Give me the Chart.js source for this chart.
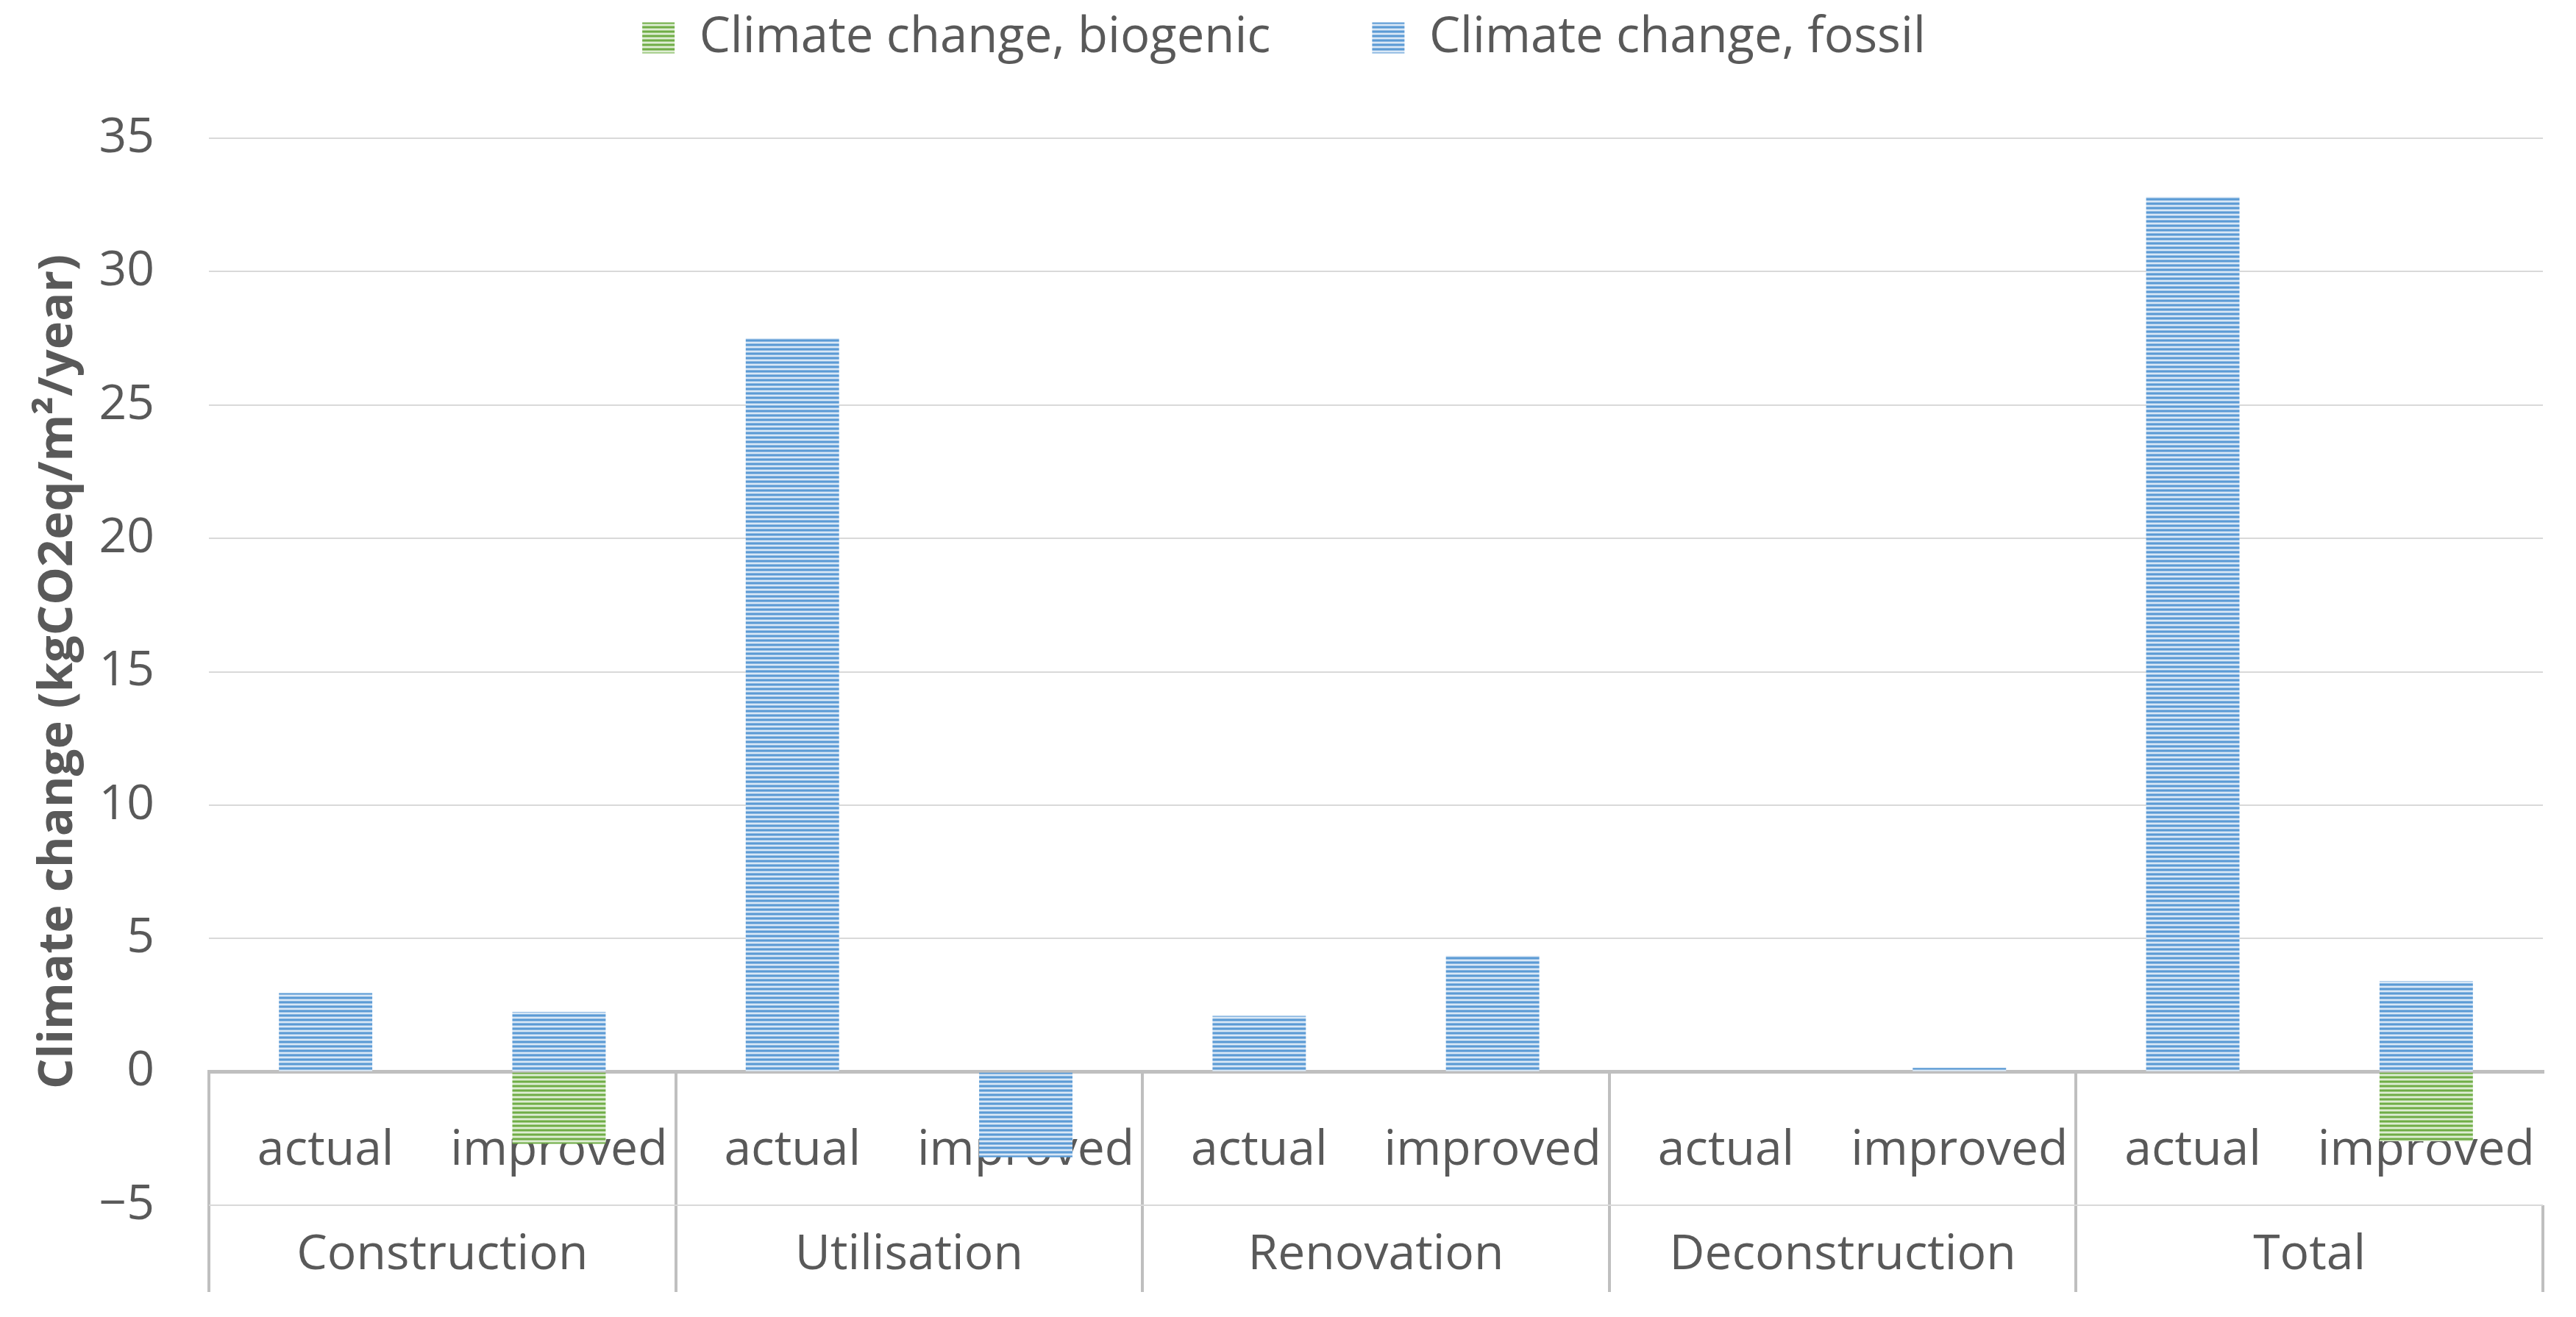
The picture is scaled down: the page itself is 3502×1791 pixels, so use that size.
<!DOCTYPE html>
<html>
<head>
<meta charset="utf-8">
<script src="https://cdn.jsdelivr.net/npm/chart.js@4.4.1/dist/chart.umd.min.js"></script>
<style>
html,body{margin:0;padding:0;background:#ffffff;}
canvas{display:block;}
</style>
</head>
<body>
<canvas id="c" width="3502" height="1791"></canvas>
<script>
// ---- data ----
const groups = ['Construction', 'Utilisation', 'Renovation', 'Deconstruction', 'Total'];
const scenarios = ['actual', 'improved'];
const biogenic = [0, -2.7, 0, 0, 0, 0, 0, 0, 0, -2.6];
const fossil = [2.95, 2.25, 27.5, -3.2, 2.1, 4.35, 0, 0.15, 32.8, 3.4];
const seriesNames = ['Climate change, biogenic', 'Climate change, fossil'];
const yTickLabels = ['\u22125', '0', '5', '10', '15', '20', '25', '30', '35'];
const yTitle = 'Climate change (kgCO2eq/m\u00B2/year)';

const labels = groups.flatMap(() => scenarios);

function stripes(rows) {
  const c = document.createElement('canvas');
  c.width = 8; c.height = rows.length;
  const g = c.getContext('2d');
  rows.forEach((col, i) => { g.fillStyle = col; g.fillRect(0, i, 8, 1); });
  return document.getElementById('c').getContext('2d').createPattern(c, 'repeat');
}
const bluePat = stripes(['#5B9BD5', '#5B9BD5', '#8FB9E2', '#D9E8F6', '#D9E8F6', '#8FB9E2']);
const greenPat = stripes(['#70AD47', '#70AD47', '#A3CC86', '#DEEDD4', '#DEEDD4', '#A3CC86']);

const textColor = '#595959';
const baseFont = {family: 'Open Sans', size: 66};

new Chart(document.getElementById('c'), {
  type: 'bar',
  data: {
    labels: labels,
    datasets: [
      {label: seriesNames[0], data: biogenic, backgroundColor: greenPat, borderWidth: 0, xAxisID: 'x', yAxisID: 'y'},
      {label: seriesNames[1], data: fossil, backgroundColor: bluePat, borderWidth: 0, xAxisID: 'x', yAxisID: 'y'}
    ]
  },
  options: {
    responsive: false,
    animation: false,
    devicePixelRatio: 1,
    events: [],
    layout: {padding: {left: 34, right: 45, top: -120, bottom: 0}},
    datasets: {bar: {barPercentage: 0.4, categoryPercentage: 1.0}},
    plugins: {
      tooltip: {enabled: false},
      legend: {
        position: 'top',
        weight: 1000,
        labels: {boxWidth: 44, boxHeight: 42, padding: 138, color: textColor, font: {family: 'Open Sans', size: 67}}
      },
      title: {
        display: true,
        text: '',
        position: 'top',
        weight: 500,
        font: {size: 10, lineHeight: 1},
        padding: {top: 83, bottom: 0}
      }
    },
    scales: {
      x: {
        type: 'category',
        position: {y: 0},
        stacked: true,
        offset: true,
        grid: {
          display: true, drawOnChartArea: false, drawTicks: true, tickLength: 181, offset: true,
          lineWidth: 4,
          color: (c) => (c.index % 2 === 0 ? '#BFBFBF' : 'rgba(0,0,0,0)')
        },
        border: {display: true, color: '#BFBFBF', width: 5},
        ticks: {color: textColor, font: baseFont, padding: -113, maxRotation: 0, minRotation: 0, autoSkip: false}
      },
      x2: {
        type: 'category',
        labels: groups,
        position: 'bottom',
        offset: true,
        grid: {display: true, drawOnChartArea: false, drawTicks: true, tickLength: 118, offset: true, lineWidth: 4, color: '#BFBFBF'},
        border: {display: false},
        ticks: {color: textColor, font: baseFont, padding: -89, maxRotation: 0, minRotation: 0, autoSkip: false},
        afterFit: (s) => { s.height = 152; }
      },
      y: {
        stacked: true,
        min: -5,
        max: 35,
        grid: {color: '#D9D9D9', lineWidth: 2, drawTicks: false},
        border: {display: false},
        ticks: {stepSize: 5, padding: 74, color: textColor, font: baseFont,
                callback: (v, i) => yTickLabels[i]},
        title: {display: true, text: yTitle, color: textColor,
                font: {family: 'Open Sans', size: 65, weight: 'bold'}, padding: {top: 6, bottom: 4}},
        afterFit: (s) => { s.width = 250; }
      }
    }
  }
});
</script>
</body>
</html>
